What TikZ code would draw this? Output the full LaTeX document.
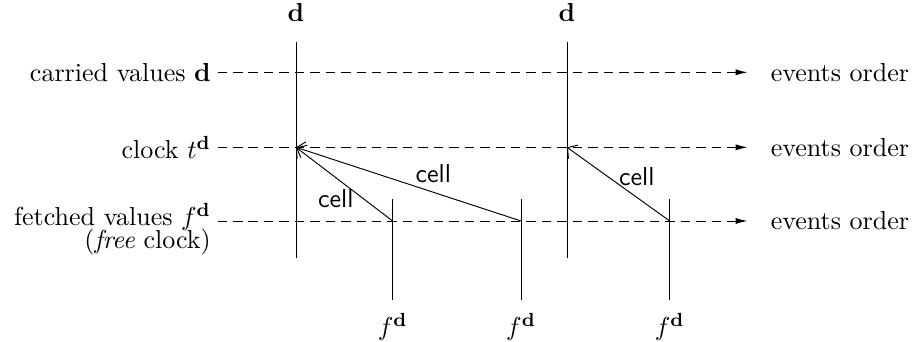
\documentclass[tikz,border=0pt,11pt]{standalone}
\usepackage{amsmath}
\usepackage{tikz}
\usetikzlibrary{arrows.meta}
\newcommand{\lineend}{11.06}
\newcommand{\linestart}{3.22}

\begin{document}
\begin{tikzpicture}[
    order/.style={dash pattern=on 4pt off 2.5pt, -{Latex[length=5pt,width=2.6pt]}},
    fetch/.style={-{Straight Barb[length=3pt,width=7pt]}},
    celllab/.style={font=\sffamily},
    rowlab/.style={anchor=east, xshift=1pt},
    endlab/.style={anchor=west, xshift=6pt}]
    \useasboundingbox (0,0) rectangle (13.51,5.06);
    % rows of the diagram
    \coordinate (r0s) at (\linestart, 3.99);
    \coordinate (r0e) at (\lineend, 3.99);
    \coordinate (r1s) at (\linestart, 2.88);
    \coordinate (r1e) at (\lineend, 2.88);
    \coordinate (r2s) at (\linestart, 1.79);
    \coordinate (r2e) at (\lineend, 1.79);
    \node[rowlab] (carried) at (r0s) {carried values $\mathbf{d}$};
    \node[rowlab] (clock) at (r1s) {clock $t^{\mathbf{d}}$};
    \node[rowlab, align=right, yshift=-0.12cm] (fetched) at (r2s) {fetched values $f^{\mathbf{d}}$\\[-4.2pt](\textit{free} clock)};
    \draw[order] (r0s) -- (r0e);
    \draw[order] (r1s) -- (r1e);
    \draw[order] (r2s) -- (r2e);
    \node[endlab] (ord0) at (r0e) {events order};
    \node[endlab] (ord1) at (r1e) {events order};
    \node[endlab] (ord2) at (r2e) {events order};
    % carried events
    \foreach \i/\x in {1/4.38, 2/8.39} {
        \node (d\i) at (\x, 4.87) {$\mathbf{d}$};
        \coordinate (d\i top) at (\x, 4.44);
        \coordinate (d\i bot) at (\x, 1.24);
        \coordinate (t\i) at (\x, 2.88);
        \draw (d\i top) -- (d\i bot);
    }
    % fetched events
    \foreach \i/\x in {1/5.81, 2/7.71, 3/9.91} {
        \node (fl\i) at (\x, 0.22) {$f^{\mathbf{d}}$};
        \coordinate (f\i top) at (\x, 2.11);
        \coordinate (f\i bot) at (\x, 0.62);
        \coordinate (f\i) at (\x, 1.79);
        \draw (f\i top) -- (f\i bot);
    }
    \draw[fetch] (f1) -- node[celllab, pos=0.31, left] (cell1) {cell} (t1);
    \draw[fetch] (f2) -- node[celllab, pos=0.39, above] (cell2) {cell} (t1);
    \draw[fetch] (f3) -- node[celllab, pos=0.32, above=1pt] (cell3) {cell} (t2);
\end{tikzpicture}
\end{document}
